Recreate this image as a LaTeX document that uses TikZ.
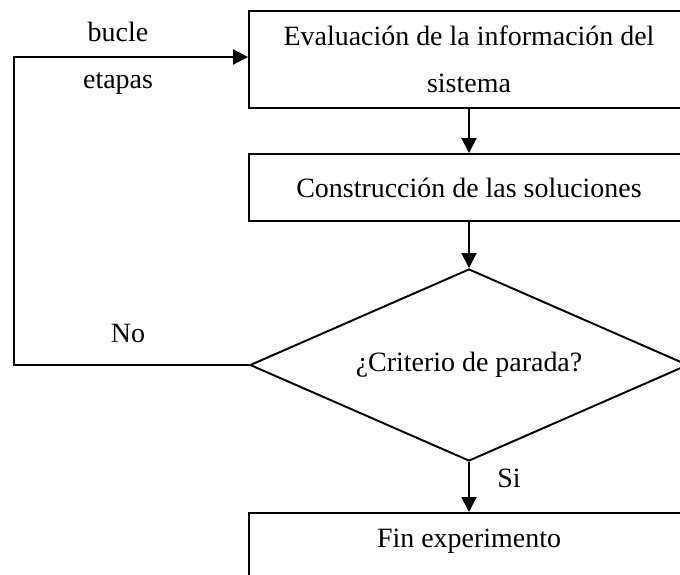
\documentclass[tikz,border=0pt]{standalone}
\usepackage{fontspec}
\setmainfont{Liberation Serif}
\usepackage{tikz}
\usetikzlibrary{positioning,arrows.meta,calc,shapes.geometric}

\begin{document}
\begin{tikzpicture}[font=\fontsize{15.9}{26.8}\selectfont,
  stepbox/.style={rectangle,draw=black,line width=1.1pt,align=center,inner sep=4pt,minimum width=8.8cm},
  decision/.style={diamond,draw=black,line width=1.1pt,inner sep=0pt,minimum width=8.76cm,minimum height=3.84cm,aspect=2.28},
  lbl/.style={inner sep=1pt},
  arr/.style={-{Triangle[length=3mm,width=3mm]},line width=1.1pt}]
  \useasboundingbox (0,0) rectangle (13.6,11.48);
  \clip (0,0) rectangle (13.6,11.48);
  \node[stepbox,minimum height=1.94cm] (eval) at (9.38,10.29) {Evaluación de la información del\\sistema};
  \node[stepbox,minimum height=1.34cm] (constr) at (9.38,7.73) {Construcción de las soluciones};
  \node[decision] (crit) at (9.38,4.18) {¿Criterio de parada?};
  \node[stepbox,anchor=north,inner ysep=0pt,text height=0.7cm,text depth=1cm] (fin) at (9.38,1.24) {Fin experimento};
  \coordinate (loop) at (0.28,10.34);
  \draw[arr] (eval) -- (constr);
  \draw[arr] (constr) -- (crit);
  \draw[arr] (crit) -- (fin);
  \draw[arr] (crit.west) -| (loop) -- (loop -| eval.west);
  \node[lbl] (bucle) at (2.36,10.84) {bucle};
  \node[lbl] (etapas) at (2.36,9.80) {etapas};
  \node[lbl] (no) at (2.56,4.82) {No};
  \node[lbl] (si) at (10.18,1.92) {Si};
\end{tikzpicture}
\end{document}
